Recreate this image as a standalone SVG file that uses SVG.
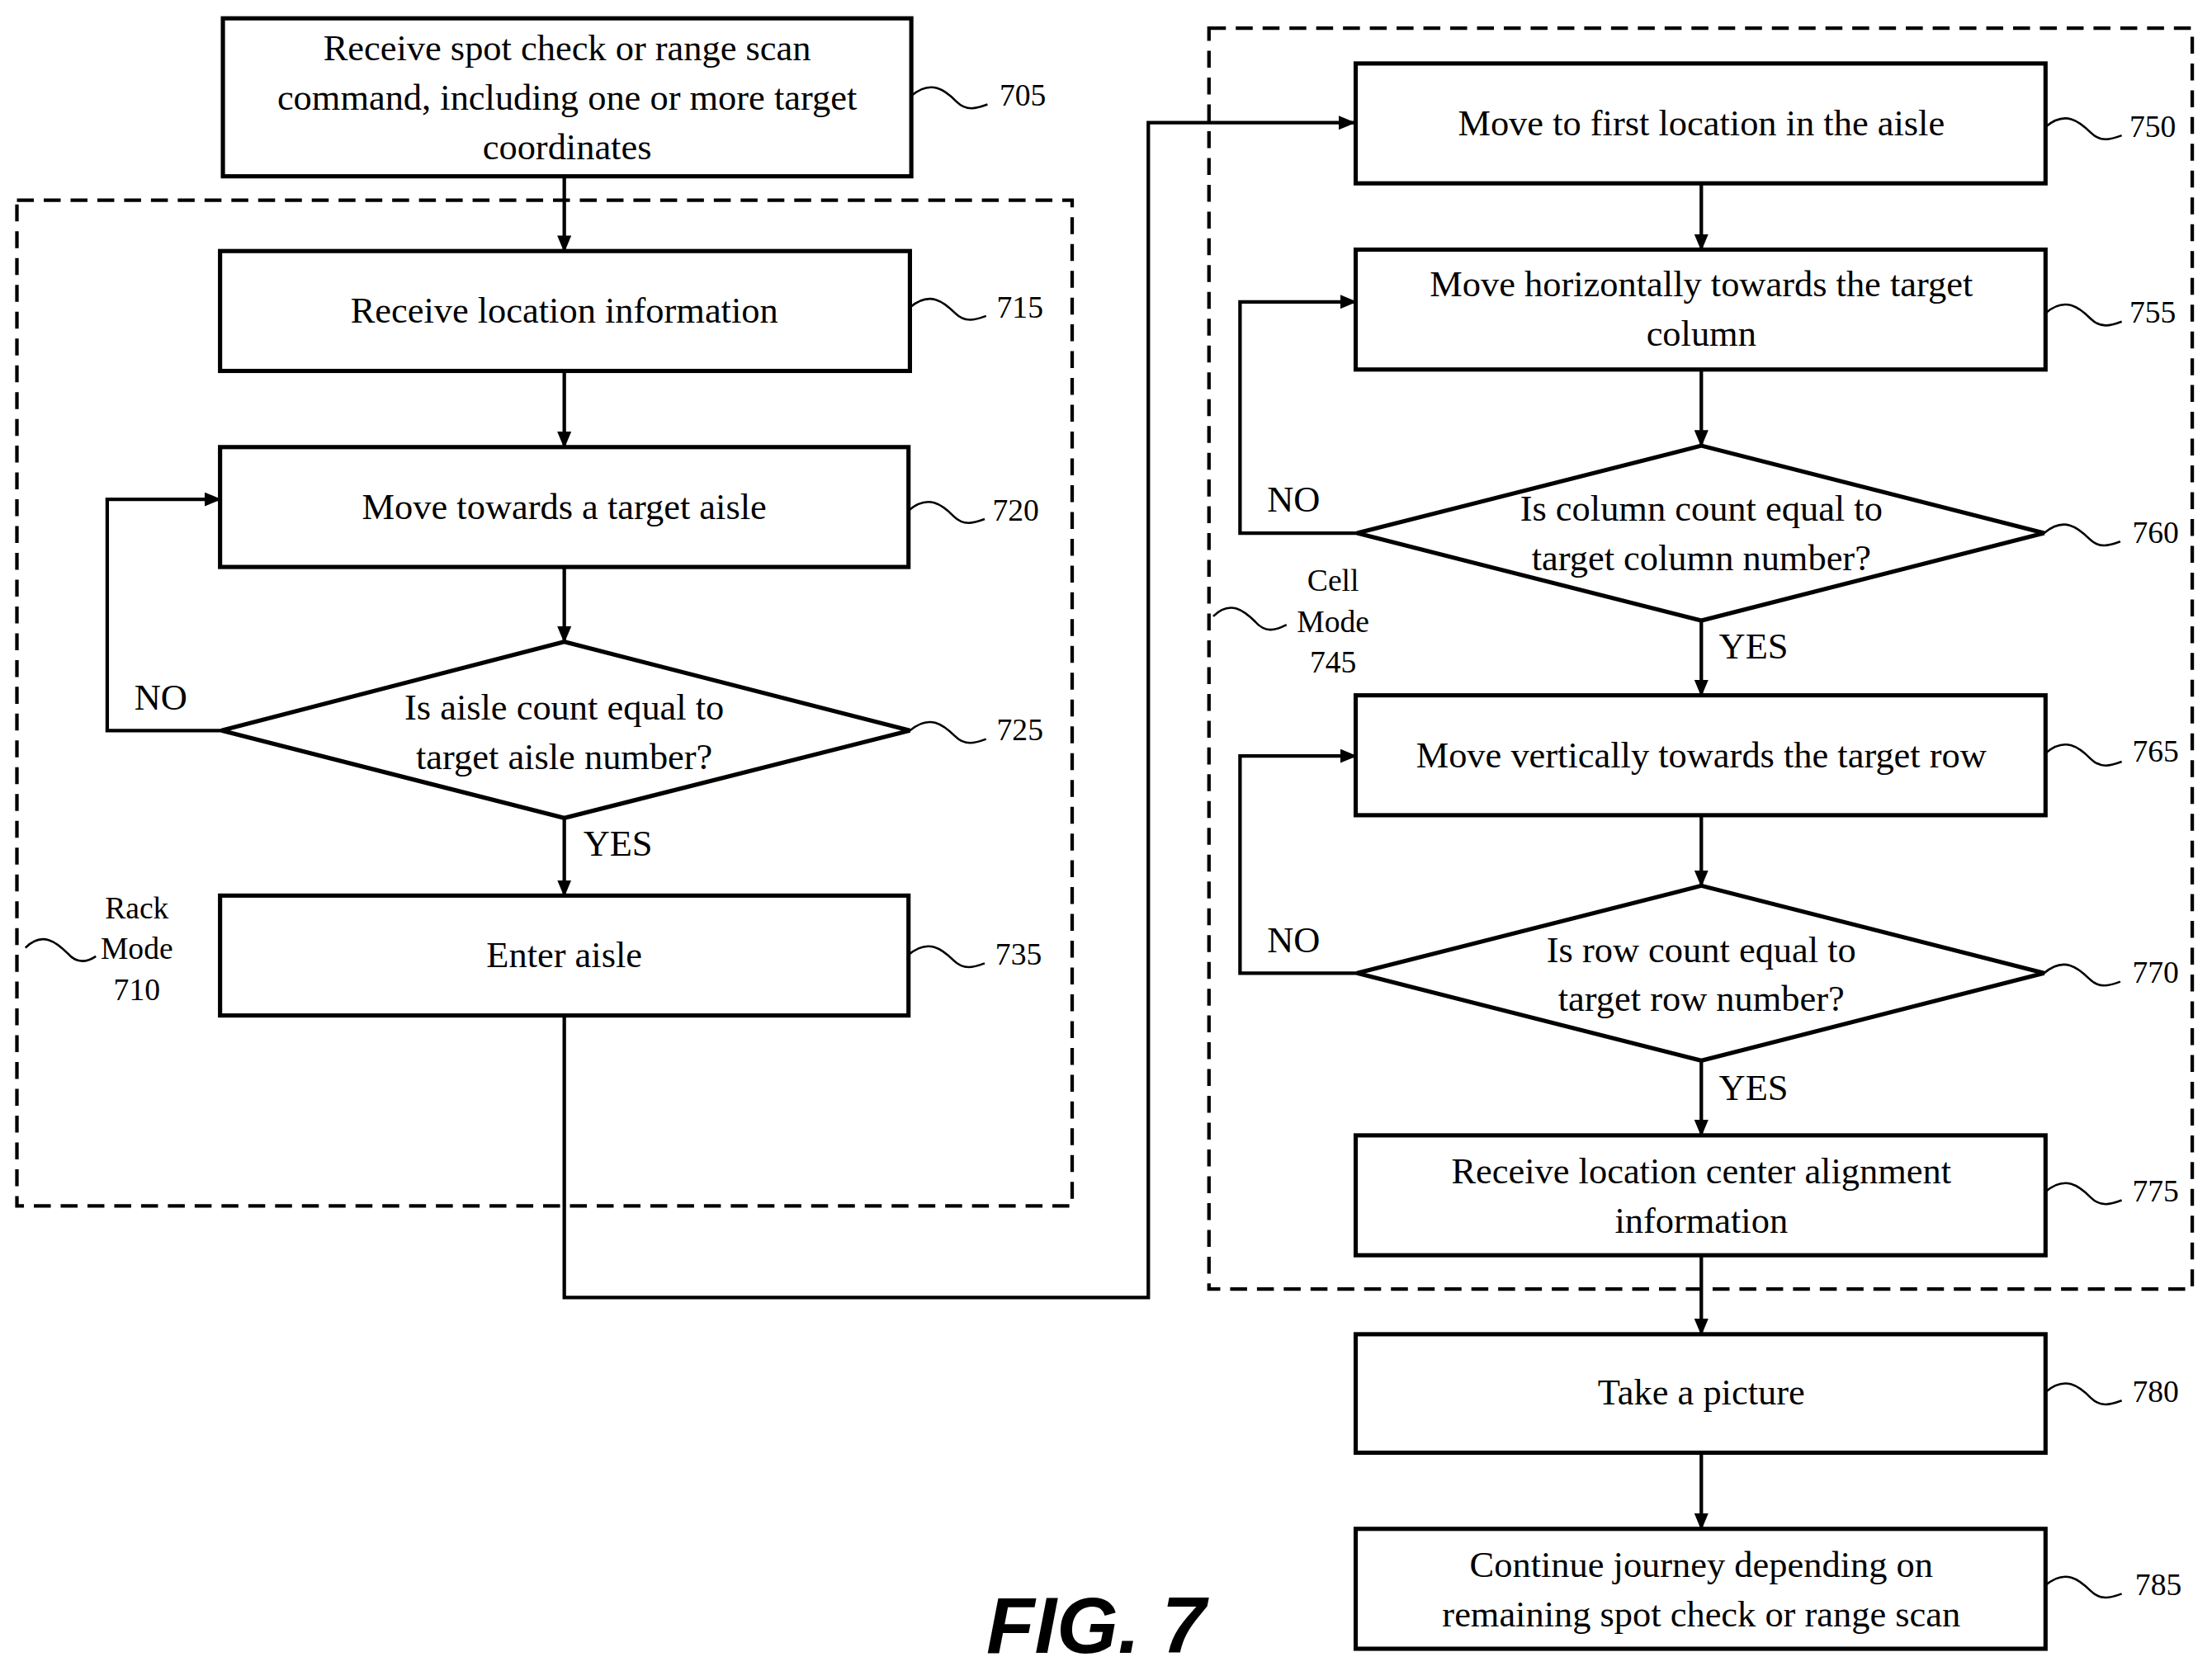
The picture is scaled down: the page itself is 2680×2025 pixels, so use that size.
<svg xmlns="http://www.w3.org/2000/svg" width="2680" height="2025" viewBox="0 0 2680 2025">
<defs>
<marker id="ah" markerWidth="12" markerHeight="10" refX="11" refY="5" orient="auto" markerUnits="userSpaceOnUse"><path d="M0,0 L12,5 L0,10 Z" fill="#000"/></marker>
<style>
.b{fill:#fff;stroke:#000;stroke-width:3}
.d{fill:none;stroke:#000;stroke-width:2.5;stroke-dasharray:12,7}
.c{fill:none;stroke:#000;stroke-width:2.5}
.s{fill:none;stroke:#000;stroke-width:1.5}
.t{font-family:"Liberation Serif",serif;font-size:26px;text-anchor:middle}
.l{font-family:"Liberation Serif",serif;font-size:22px;text-anchor:middle}
.f{font-family:"Liberation Sans",sans-serif;font-size:56px;font-weight:bold;font-style:italic;text-anchor:middle}
</style>
</defs>
<rect width="2680" height="2025" fill="#fff"/>
<g transform="scale(1.70918)">
<g id="groups">
<rect class="d" x="12" y="142" width="748" height="713"/>
<rect class="d" x="857" y="20" width="697" height="894"/>
<text class="l" x="97" y="651">Rack</text><text class="l" x="97" y="680">Mode</text><text class="l" x="97" y="709">710</text>
<path class="s" d="M18,672 C30,660 40,668 48,676 C55,684 62,682 68,678"/>
<text class="l" x="945" y="419">Cell</text><text class="l" x="945" y="448">Mode</text><text class="l" x="945" y="477">745</text>
<path class="s" d="M860,437 C872,425 882,433 890,441 C897,449 904,447 912,443"/>
</g>
<g id="connectors">
<path class="c" d="M400,125 V178" marker-end="url(#ah)"/>
<path class="c" d="M400,263 V317" marker-end="url(#ah)"/>
<path class="c" d="M400,402 V455" marker-end="url(#ah)"/>
<path class="c" d="M400,580 V635" marker-end="url(#ah)"/>
<path class="c" d="M157,518 H76 V354 H156" marker-end="url(#ah)"/>
<path class="c" d="M400,720 V920 H814 V87 H960" marker-end="url(#ah)"/>
<path class="c" d="M1206,130 V177" marker-end="url(#ah)"/>
<path class="c" d="M1206,262 V316" marker-end="url(#ah)"/>
<path class="c" d="M1206,440 V493" marker-end="url(#ah)"/>
<path class="c" d="M1206,578 V628" marker-end="url(#ah)"/>
<path class="c" d="M1206,752 V805" marker-end="url(#ah)"/>
<path class="c" d="M1206,890 V946" marker-end="url(#ah)"/>
<path class="c" d="M1206,1030 V1084" marker-end="url(#ah)"/>
<path class="c" d="M962,378 H879 V214 H961" marker-end="url(#ah)"/>
<path class="c" d="M962,690 H879 V536 H961" marker-end="url(#ah)"/>
<text class="t" x="114" y="503">NO</text>
<text class="t" x="438" y="607">YES</text>
<text class="t" x="917" y="363">NO</text>
<text class="t" x="1243" y="467">YES</text>
<text class="t" x="917" y="675">NO</text>
<text class="t" x="1243" y="780">YES</text>
</g>
<g id="n705"><rect class="b" x="158" y="13" width="488" height="112"/>
<text class="t" x="402" y="43">Receive spot check or range scan</text><text class="t" x="402" y="78">command, including one or more target</text><text class="t" x="402" y="113">coordinates</text>
<path class="s" d="M646,68 C660,56 670,64 678,72 C685,79 692,77 700,74"/><text class="l" x="725" y="75">705</text></g>
<g id="n715"><rect class="b" x="156" y="178" width="489" height="85"/><text class="t" x="400" y="229">Receive location information</text>
<path class="s" d="M645,218 C659,206 669,214 677,222 C684,229 691,227 699,224"/><text class="l" x="723" y="225">715</text></g>
<g id="n720"><rect class="b" x="156" y="317" width="488" height="85"/><text class="t" x="400" y="368">Move towards a target aisle</text>
<path class="s" d="M644,362 C658,350 668,358 676,366 C683,373 690,371 698,368"/><text class="l" x="720" y="369">720</text></g>
<g id="n725"><polygon class="b" points="157,518 400,455 645,518 400,580"/>
<text class="t" x="400" y="510">Is aisle count equal to</text><text class="t" x="400" y="545">target aisle number?</text>
<path class="s" d="M645,518 C659,506 669,514 677,522 C684,529 691,527 699,524"/><text class="l" x="723" y="525">725</text></g>
<g id="n735"><rect class="b" x="156" y="635" width="488" height="85"/><text class="t" x="400" y="686">Enter aisle</text>
<path class="s" d="M644,677 C658,665 668,673 676,681 C683,688 690,686 698,683"/><text class="l" x="722" y="684">735</text></g>
<g id="n750"><rect class="b" x="961" y="45" width="489" height="85"/><text class="t" x="1206" y="96">Move to first location in the aisle</text>
<path class="s" d="M1450,90 C1464,78 1474,86 1482,94 C1489,101 1496,99 1504,96"/><text class="l" x="1526" y="97">750</text></g>
<g id="n755"><rect class="b" x="961" y="177" width="489" height="85"/><text class="t" x="1206" y="210">Move horizontally towards the target</text><text class="t" x="1206" y="245">column</text>
<path class="s" d="M1450,222 C1464,210 1474,218 1482,226 C1489,233 1496,231 1504,228"/><text class="l" x="1526" y="229">755</text></g>
<g id="n760"><polygon class="b" points="962,378 1206,316 1449,378 1206,440"/>
<text class="t" x="1206" y="369">Is column count equal to</text><text class="t" x="1206" y="404">target column number?</text>
<path class="s" d="M1449,378 C1463,366 1473,374 1481,382 C1488,389 1495,387 1503,384"/><text class="l" x="1528" y="385">760</text></g>
<g id="n765"><rect class="b" x="961" y="493" width="489" height="85"/><text class="t" x="1206" y="544">Move vertically towards the target row</text>
<path class="s" d="M1450,534 C1464,522 1474,530 1482,538 C1489,545 1496,543 1504,540"/><text class="l" x="1528" y="540">765</text></g>
<g id="n770"><polygon class="b" points="962,690 1206,628 1449,690 1206,752"/>
<text class="t" x="1206" y="682">Is row count equal to</text><text class="t" x="1206" y="717">target row number?</text>
<path class="s" d="M1449,690 C1463,678 1473,686 1481,694 C1488,701 1495,699 1503,696"/><text class="l" x="1528" y="697">770</text></g>
<g id="n775"><rect class="b" x="961" y="805" width="489" height="85"/><text class="t" x="1206" y="839">Receive location center alignment</text><text class="t" x="1206" y="874">information</text>
<path class="s" d="M1450,845 C1464,833 1474,841 1482,849 C1489,856 1496,854 1504,851"/><text class="l" x="1528" y="852">775</text></g>
<g id="n780"><rect class="b" x="961" y="946" width="489" height="84"/><text class="t" x="1206" y="996">Take a picture</text>
<path class="s" d="M1450,987 C1464,975 1474,983 1482,991 C1489,998 1496,996 1504,993"/><text class="l" x="1528" y="994">780</text></g>
<g id="n785"><rect class="b" x="961" y="1084" width="489" height="85"/><text class="t" x="1206" y="1118">Continue journey depending on</text><text class="t" x="1206" y="1153">remaining spot check or range scan</text>
<path class="s" d="M1450,1124 C1464,1112 1474,1120 1482,1128 C1489,1135 1496,1133 1504,1130"/><text class="l" x="1530" y="1131">785</text></g>
<text class="f" x="777" y="1172">FIG. 7</text>
</g>
</svg>
